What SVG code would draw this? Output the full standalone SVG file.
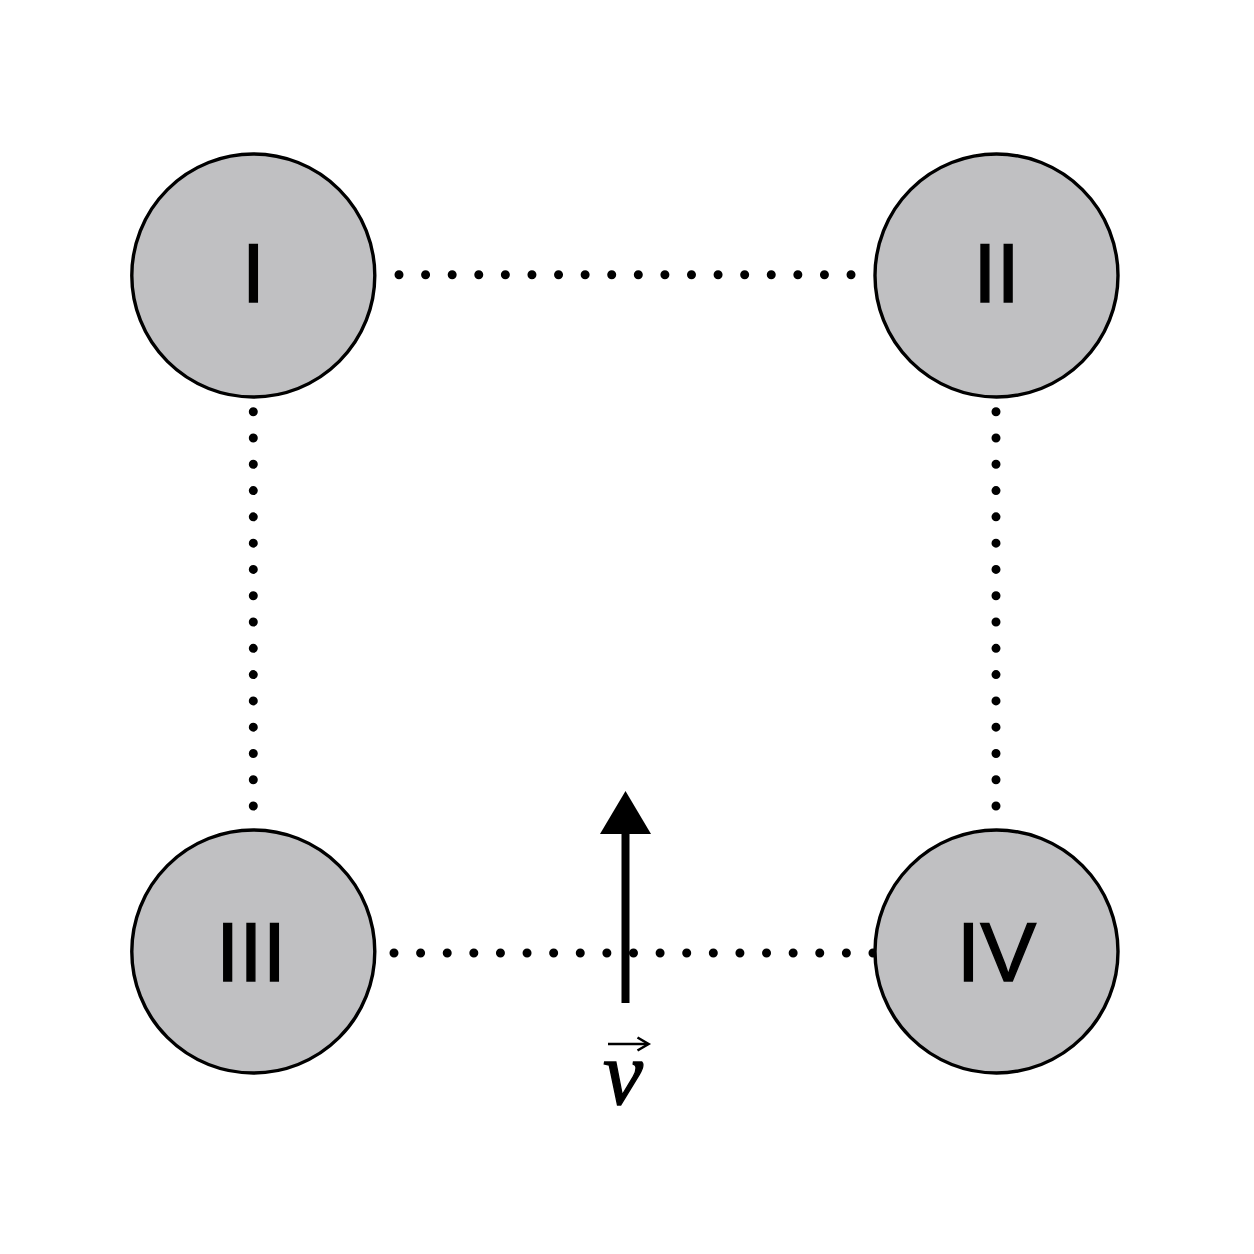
<svg xmlns="http://www.w3.org/2000/svg" width="1254" height="1254" viewBox="0 0 1254 1254">
  <style>
    .node { fill: #c0c0c2; stroke: #000; stroke-width: 3.4; }
    .label { font-family: "Liberation Sans", Arial, sans-serif; font-size: 84px; fill: #000; stroke: #000; stroke-width: 1.4; text-anchor: middle; }
    .dots { fill: none; stroke: #000; stroke-width: 9; stroke-linecap: round; }
    .vec { font-family: "Liberation Serif", "Times New Roman", serif; font-style: italic; font-size: 90px; fill: #000; stroke: #000; stroke-width: 1.3; text-anchor: middle; }
  </style>
  <rect width="1254" height="1254" fill="#fff"/>
  <g id="connectors">
    <path class="dots" d="M399 274.7 H851.1" stroke-dasharray="0 26.59"/>
    <path class="dots" d="M253.3 411.7 V806.1" stroke-dasharray="0 26.29"/>
    <path class="dots" d="M996 411.7 V806.1" stroke-dasharray="0 26.29"/>
    <path class="dots" d="M394 953 H873.1" stroke-dasharray="0 26.61"/>
  </g>
  <g id="node-I">
    <circle class="node" cx="253.3" cy="275.5" r="121.5"/>
    <text class="label" x="253.3" y="301.5">I</text>
  </g>
  <g id="node-II">
    <circle class="node" cx="996.5" cy="275.5" r="121.5"/>
    <text class="label" x="996.5" y="301.5">II</text>
  </g>
  <g id="node-III">
    <circle class="node" cx="253.3" cy="951.5" r="121.5"/>
    <text class="label" x="251" y="981">III</text>
  </g>
  <g id="node-IV">
    <circle class="node" cx="996.5" cy="951.5" r="121.5"/>
    <text class="label" x="996.5" y="980.5">IV</text>
  </g>
  <g id="velocity">
    <line x1="625.5" y1="1003" x2="625.5" y2="830" stroke="#000" stroke-width="8"/>
    <polygon points="600,834 651,834 625.5,791" fill="#000"/>
    <text class="vec" x="623" y="1104">v</text>
    <line x1="608" y1="1044" x2="648" y2="1044" stroke="#000" stroke-width="2.6"/>
    <polyline points="637.5,1037.5 648.5,1044 637.5,1050.5" fill="none" stroke="#000" stroke-width="2.6" stroke-linejoin="miter"/>
  </g>
</svg>
